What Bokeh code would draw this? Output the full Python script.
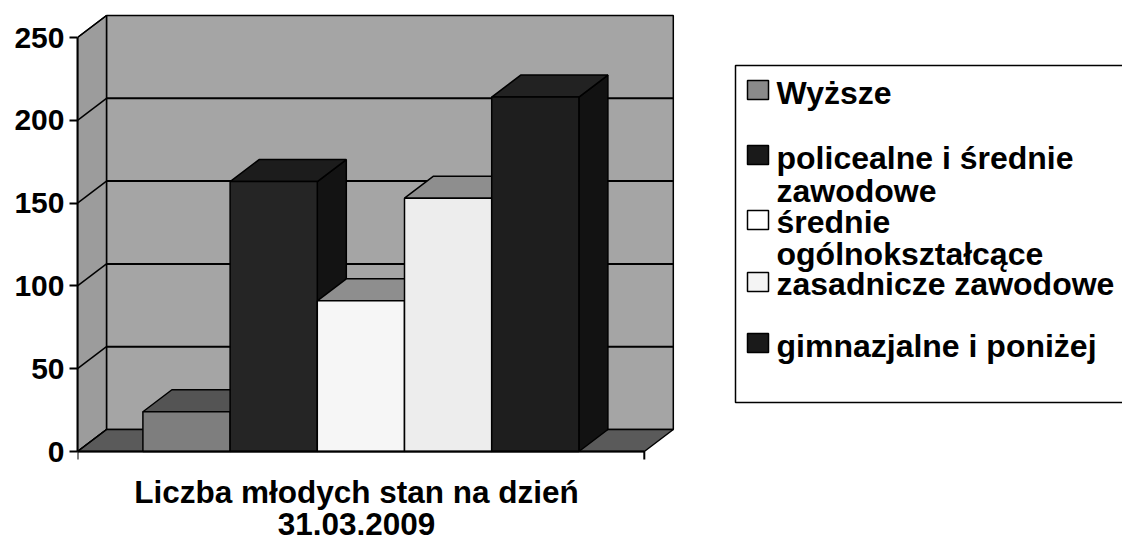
from bokeh.plotting import figure
from bokeh.models import Range1d, FixedTicker, ColumnDataSource
from bokeh.core.properties import value
from bokeh.embed import file_html
from bokeh.resources import INLINE

# ---------------- data ----------------
category = "Liczba młodych stan na dzień 31.03.2009"
series = ["Wyższe", "policealne i średnie zawodowe", "średnie ogólnokształcące",
          "zasadnicze zawodowe", "gimnazjalne i poniżej"]
values = [24, 163, 91, 153, 214]
y_ticks = [0, 50, 100, 150, 200, 250]
legend_lines = [["Wyższe"], ["policealne i średnie", "zawodowe"],
                ["średnie", "ogólnokształcące"], ["zasadnicze zawodowe"],
                ["gimnazjalne i poniżej"]]
caption_lines = ["Liczba młodych stan na dzień", "31.03.2009"]

# ---------------- styles ----------------
front_colors = ["#7e7e7e", "#252525", "#f6f6f6", "#ededed", "#1e1e1e"]
top_colors = ["#545454", "#1c1c1c", "#8e8e8e", "#8e8e8e", "#222222"]
side_colors = ["#464646", "#131313", "#bdbdbd", "#bdbdbd", "#121212"]
swatch_colors = ["#8a8a8a", "#1a1a1a", "#ffffff", "#f4f4f4", "#1a1a1a"]
back_wall = "#a5a5a5"
side_wall = "#9c9c9c"
floor_col = "#5a5a5a"
FONT = value("Liberation Sans")

# ---------------- geometry ----------------
W_PX, H_PX = 1122, 541
LEFT = 77            # figure px of frame left
PX_X = 87.2          # px per bar width
PX_Y = 1.656         # px per value unit
ZERO_Y = 451         # figure px of value 0
GAP = 0.75
FLOOR_W = len(values) + 2 * GAP
DX = 29 / PX_X
DY = 22 / PX_Y
VMAX = y_ticks[-1]
TXT_SHIFT = 7        # baseline correction for text glyphs


def X(px):
    return (px - LEFT) / PX_X


def Y(py):
    return (ZERO_Y - (py - TXT_SHIFT)) / PX_Y


def YB(py):
    return (ZERO_Y - py) / PX_Y


p = figure(width=W_PX, height=H_PX, output_backend="svg", toolbar_location=None,
           x_axis_location=None, min_border=0, min_border_left=LEFT,
           x_range=Range1d(0, (W_PX - LEFT) / PX_X),
           y_range=Range1d((ZERO_Y - H_PX) / PX_Y, ZERO_Y / PX_Y))
p.outline_line_color = None
p.grid.visible = False
p.background_fill_color = "white"
p.border_fill_color = "white"

ax = p.yaxis[0]
ax.ticker = FixedTicker(ticks=y_ticks)
ax.bounds = (0, VMAX)
ax.axis_line_width = 2
ax.major_tick_line_width = 2
ax.major_tick_out = 8
ax.major_tick_in = 0
ax.minor_tick_out = 0
ax.minor_tick_in = 0
ax.major_label_standoff = 5
ax.major_label_text_font = "Liberation Sans"
ax.major_label_text_font_style = "bold"
ax.major_label_text_font_size = "30px"
ax.major_label_text_color = "black"

# walls and floor
p.quad(left=[DX], right=[FLOOR_W + DX], bottom=[DY], top=[VMAX + DY],
       fill_color=back_wall, line_color="black", line_width=1.5)
p.patch([0, DX, DX, 0], [0, DY, VMAX + DY, VMAX], fill_color=side_wall,
        line_color="black", line_width=1.5)
p.patch([0, FLOOR_W, FLOOR_W + DX, DX], [0, 0, DY, DY], fill_color=floor_col,
        line_color="black", line_width=1.5)

# gridlines on back wall and side wall
gl = y_ticks[1:-1]
p.segment(x0=[DX] * len(gl), y0=[v + DY for v in gl],
          x1=[FLOOR_W + DX] * len(gl), y1=[v + DY for v in gl],
          line_color="black", line_width=2)
p.segment(x0=[0] * len(y_ticks), y0=y_ticks, x1=[DX] * len(y_ticks),
          y1=[v + DY for v in y_ticks], line_color="black", line_width=1.5)

# bars
xs, ys, fills = [], [], []
for i, v in enumerate(values):
    x0 = GAP + i
    x1 = x0 + 1
    xs.append([x1, x1 + DX, x1 + DX, x1]); ys.append([0, DY, v + DY, v]); fills.append(side_colors[i])
    xs.append([x0, x1, x1 + DX, x0 + DX]); ys.append([v, v, v + DY, v + DY]); fills.append(top_colors[i])
    xs.append([x0, x1, x1, x0]); ys.append([0, 0, v, v]); fills.append(front_colors[i])
p.patches("xs", "ys", source=ColumnDataSource(dict(xs=xs, ys=ys, fill=fills)),
          fill_color="fill", line_color="black", line_width=1.5)

# category axis line with end ticks
tick_len = 8 / PX_Y
p.segment(x0=[0], y0=[0], x1=[FLOOR_W], y1=[0], line_color="black", line_width=2)
p.segment(x0=[0, FLOOR_W], y0=[0, 0], x1=[0, FLOOR_W], y1=[-tick_len, -tick_len],
          line_color="black", line_width=2)

# caption (category label)
p.text(x=[X(356)] * 2, y=[Y(498), Y(530)], text=caption_lines,
       text_font=FONT, text_font_style="bold", text_font_size="31.5px",
       text_align="center", text_baseline="alphabetic", text_color="black")

# legend
p.quad(left=[X(735)], right=[X(1140)], top=[YB(65)], bottom=[YB(402)],
       fill_color="white", line_color="black", line_width=1.5)
sw_top = [80, 145, 210, 272, 333]
line_base = [[99], [164, 197], [228, 260], [290], [352]]
p.quad(left=[X(747)] * 5, right=[X(768)] * 5, top=[YB(t) for t in sw_top],
       bottom=[YB(t + 19) for t in sw_top], fill_color=swatch_colors,
       line_color="black", line_width=1.5)
lx, ly, lt = [], [], []
for lines, bases in zip(legend_lines, line_base):
    for t, b in zip(lines, bases):
        lx.append(X(776)); ly.append(Y(b)); lt.append(t)
p.text(x=lx, y=ly, text=lt, text_font=FONT, text_font_style="bold",
       text_font_size="32px", text_align="left", text_baseline="alphabetic",
       text_color="black")

open("out.html", "w").write(file_html(p, INLINE))
